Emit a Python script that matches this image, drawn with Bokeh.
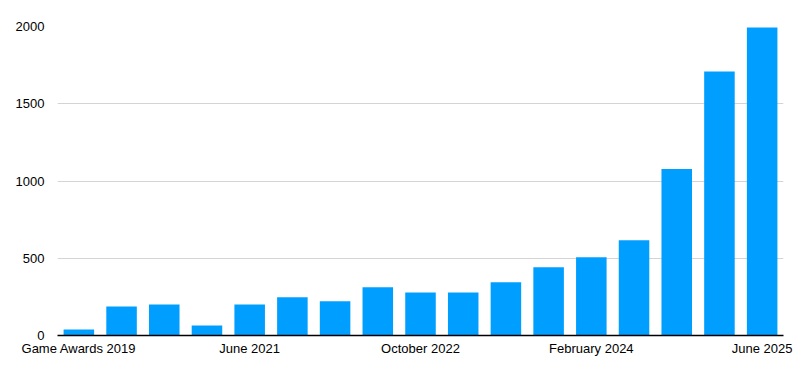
from bokeh.plotting import figure
from bokeh.models import FixedTicker, Range1d
from bokeh.embed import file_html
from bokeh.resources import INLINE

positions = list(range(1, 18))
values = [39, 188, 201, 65, 201, 247, 221, 312, 279, 279, 344, 441, 506, 617, 1078, 1708, 1994]
tick_labels = ["Game Awards 2019", "", "", "", "June 2021", "", "", "", "October 2022",
               "", "", "", "February 2024", "", "", "", "June 2025"]
y_ticks = [0, 500, 1000, 1500, 2000]

p = figure(width=803, height=360, output_backend="svg", toolbar_location=None,
           x_range=Range1d(0.5, 17.5), y_range=Range1d(0, 2000))
p.frame_width = 726
p.frame_height = 309
p.min_border_left = 57
p.min_border_top = 26
p.min_border_right = 20
p.min_border_bottom = 25
p.outline_line_color = None
p.background_fill_color = "white"
p.border_fill_color = "white"

p.vbar(x=positions, top=values, width=0.715, color="#009FFF", line_color=None)

font = "Liberation Sans"
lab_ticks = [pos for pos, l in zip(positions, tick_labels) if l]
p.xaxis.ticker = FixedTicker(ticks=lab_ticks)
p.xaxis.major_label_overrides = {pos: l for pos, l in zip(positions, tick_labels) if l}
p.xaxis.axis_line_color = "black"
p.xaxis.axis_line_width = 1.5
p.xaxis.major_tick_line_color = None
p.xaxis.minor_tick_line_color = None
p.xaxis.major_tick_out = 0
p.xaxis.major_tick_in = 0
p.xaxis.major_label_standoff = 5
p.xaxis.major_label_text_font = font
p.xaxis.major_label_text_font_size = "13px"
p.xaxis.major_label_text_color = "black"
p.xgrid.grid_line_color = None

p.yaxis.ticker = FixedTicker(ticks=y_ticks)
p.yaxis.axis_line_color = None
p.yaxis.major_tick_line_color = None
p.yaxis.minor_tick_line_color = None
p.yaxis.major_tick_out = 0
p.yaxis.major_tick_in = 0
p.yaxis.major_label_standoff = 13
p.yaxis.major_label_text_font = font
p.yaxis.major_label_text_font_size = "13px"
p.yaxis.major_label_text_color = "black"
p.ygrid.grid_line_color = "#d4d4d4"
p.ygrid.grid_line_width = 1

open("out.html", "w").write(file_html(p, INLINE))
